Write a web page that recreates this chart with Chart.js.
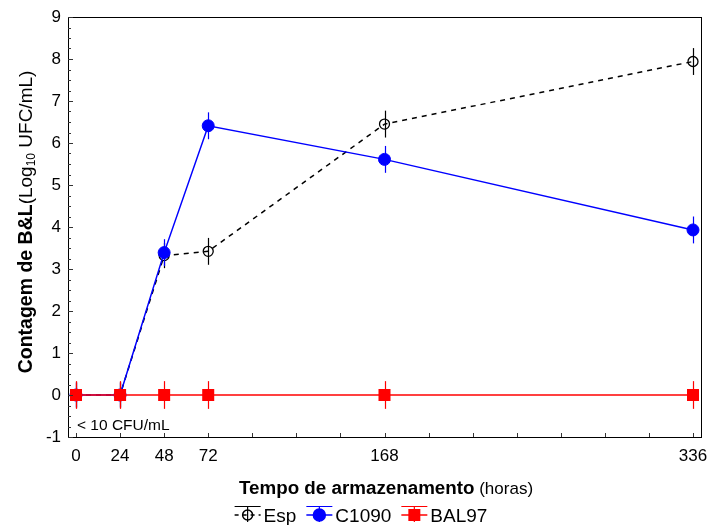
<!DOCTYPE html>
<html>
<head>
<meta charset="utf-8">
<script src="https://cdn.jsdelivr.net/npm/chart.js@4/dist/chart.umd.min.js"></script>
<style>
	html, body { margin: 0; padding: 0; background: #fff; }
	#wrap { width: 712px; height: 525px; }
</style>
</head>
<body>
<div id="wrap"><canvas id="chart" width="712" height="525"></canvas></div>
<script>
// storage time (hours)
const hours = [0, 24, 48, 72, 168, 336]
const labelledHours = [0, 24, 48, 72, 168, 336]

// B&L counts, Log10 UFC/mL
const esp = [0, 0, 3.32, 3.42, 6.45, 7.94]
const espErr = [0.3, 0.3, 0.3, 0.32, 0.32, 0.32]
const c1090 = [0, 0, 3.39, 6.41, 5.61, 3.93]
const c1090Err = [0.3, 0.3, 0.32, 0.32, 0.32, 0.32]
const bal97 = [0, 0, 0, 0, 0, 0]
const bal97Err = [0.33, 0.33, 0.33, 0.33, 0.33, 0.33]

const errors = [espErr, c1090Err, bal97Err]
const FONT = '"Liberation Sans", Arial, sans-serif'

function points(vals) {
	return hours.map((h, i) => ({x: h, y: vals[i]}))
}

// error whiskers, drawn after each dataset
const errorBars = {
	id: 'errorBars',
	afterDatasetDraw(chart, args) {
		const ctx = chart.ctx
		const ds = chart.data.datasets[args.index]
		const errs = errors[args.index]
		const xs = chart.scales.x, ys = chart.scales.y
		ctx.save()
		ctx.strokeStyle = ds.borderColor
		ctx.lineWidth = 1.2
		ds.data.forEach((p, i) => {
			const x = Math.round(xs.getPixelForValue(p.x)) + 0.5
			ctx.beginPath()
			ctx.moveTo(x, ys.getPixelForValue(p.y + errs[i]))
			ctx.lineTo(x, ys.getPixelForValue(p.y - errs[i]))
			ctx.stroke()
		})
		ctx.restore()
	}
}

// frame, inside ticks, titles, note and legend
const decor = {
	id: 'decor',
	afterDraw(chart) {
		const ctx = chart.ctx
		const a = chart.chartArea
		const xs = chart.scales.x, ys = chart.scales.y
		ctx.save()
		ctx.strokeStyle = '#000'
		ctx.lineWidth = 1
		ctx.strokeRect(Math.round(a.left) + 0.5, Math.round(a.top) + 0.5, Math.round(a.right - a.left), Math.round(a.bottom - a.top))

		ctx.strokeStyle = '#333'
		ctx.beginPath()
		for (let h = 0; h <= 336; h += 24) {
			const x = Math.round(xs.getPixelForValue(h)) + 0.5
			ctx.moveTo(x, a.bottom)
			ctx.lineTo(x, a.bottom - 4)
		}
		for (let v = -1; v <= 9.001; v += 0.25) {
			const y = Math.round(ys.getPixelForValue(v)) + 0.5
			const major = Math.abs(v - Math.round(v)) < 0.01
			ctx.moveTo(a.left, y)
			ctx.lineTo(a.left + (major ? 5 : 3), y)
		}
		ctx.stroke()

		ctx.fillStyle = '#000'
		ctx.textBaseline = 'alphabetic'

		// note under the zero line
		ctx.font = '15.5px ' + FONT
		ctx.textAlign = 'left'
		ctx.fillText('< 10 CFU/mL', 77, 430)

		// x title
		ctx.font = 'bold 18.8px ' + FONT
		const t1 = 'Tempo de armazenamento'
		const w1 = ctx.measureText(t1).width
		ctx.font = '17px ' + FONT
		const t2 = ' (horas)'
		const w2 = ctx.measureText(t2).width
		let x0 = 386 - (w1 + w2) / 2
		ctx.font = 'bold 18.8px ' + FONT
		ctx.fillText(t1, x0, 494)
		ctx.font = '17px ' + FONT
		ctx.fillText(t2, x0 + w1, 494)

		// y title, rotated
		ctx.save()
		ctx.translate(32, 222)
		ctx.rotate(-Math.PI / 2)
		const parts = [
			{t: 'Contagem de B&L', f: 'bold 19.5px ' + FONT, dy: 0},
			{t: '(Log', f: '19px ' + FONT, dy: 0},
			{t: '10', f: '12px ' + FONT, dy: 3},
			{t: ' UFC/mL)', f: '19px ' + FONT, dy: 0}
		]
		let total = 0
		parts.forEach(p => { ctx.font = p.f; p.w = ctx.measureText(p.t).width; total += p.w })
		let px = -total / 2
		parts.forEach(p => {
			ctx.font = p.f
			ctx.fillText(p.t, px, p.dy)
			px += p.w
		})
		ctx.restore()

		// legend
		ctx.font = '19px ' + FONT
		const items = chart.data.datasets.map(ds => ({ds, w: 29 + ctx.measureText(ds.label).width}))
		const gap = 10
		let lw = items.reduce((s, it) => s + it.w, 0) + gap * (items.length - 1)
		let lx = 361 - lw / 2
		const ly = 515
		items.forEach(it => {
			const ds = it.ds
			ctx.strokeStyle = ds.borderColor
			ctx.lineWidth = 1.2
			ctx.setLineDash([])
			ctx.beginPath()
			ctx.moveTo(lx, ly - 8.5)
			ctx.lineTo(lx + 26, ly - 8.5)
			ctx.moveTo(lx + 13, ly - 8.5)
			ctx.lineTo(lx + 13, ly + 7)
			ctx.stroke()
			ctx.lineWidth = 1.5
			if (ds.borderDash && ds.borderDash.length) ctx.setLineDash([4, 4])
			ctx.beginPath()
			ctx.moveTo(lx, ly)
			ctx.lineTo(lx + 26, ly)
			ctx.stroke()
			ctx.setLineDash([])
			ctx.fillStyle = ds.pointBackgroundColor
			ctx.beginPath()
			if (ds.pointStyle === 'rect') {
				ctx.rect(lx + 13 - 6, ly - 6, 12, 12)
				ctx.fill()
			} else {
				ctx.arc(lx + 13, ly, ds.pointRadius, 0, Math.PI * 2)
				ctx.fill()
				ctx.stroke()
			}
			ctx.fillStyle = '#000'
			ctx.textAlign = 'left'
			ctx.fillText(ds.label, lx + 29, ly + 7)
			lx += it.w + gap
		})
		ctx.restore()
	}
}

new Chart(document.getElementById('chart').getContext('2d'), {
	type: 'line',
	data: {
		datasets: [
			{
				label: 'Esp',
				data: points(esp),
				borderColor: '#000',
				borderWidth: 1.5,
				borderDash: [5, 5],
				pointStyle: 'circle',
				pointRadius: 5,
				pointBorderWidth: 1.3,
				pointBorderColor: '#000',
				pointBackgroundColor: 'rgba(255,255,255,0)',
				order: 2
			},
			{
				label: 'C1090',
				data: points(c1090),
				borderColor: '#0000ff',
				borderWidth: 1.5,
				pointStyle: 'circle',
				pointRadius: 6,
				pointBorderWidth: 1,
				pointBorderColor: '#0000ff',
				pointBackgroundColor: '#0000ff',
				order: 1
			},
			{
				label: 'BAL97',
				data: points(bal97),
				borderColor: '#ff0000',
				borderWidth: 1.5,
				pointStyle: 'rect',
				pointRadius: 8.5,
				pointBorderWidth: 0,
				pointBorderColor: '#ff0000',
				pointBackgroundColor: '#ff0000',
				order: 0
			}
		]
	},
	options: {
		responsive: false,
		animation: false,
		events: [],
		layout: {padding: {top: 17, right: 11, left: 0, bottom: 0}},
		plugins: {legend: {display: false}, tooltip: {enabled: false}},
		elements: {line: {tension: 0}},
		scales: {
			x: {
				type: 'linear',
				min: -4.36,
				max: 340.36,
				grid: {display: false, drawTicks: false},
				border: {display: false},
				afterBuildTicks: s => { s.ticks = labelledHours.map(v => ({value: v})) },
				afterFit: s => { s.height = 88; s.paddingLeft = 0; s.paddingRight = 0 },
				ticks: {
					autoSkip: false,
					maxRotation: 0,
					padding: 9,
					color: '#000',
					font: {family: FONT, size: 17}
				}
			},
			y: {
				min: -1,
				max: 9,
				grid: {display: false, drawTicks: false},
				border: {display: false},
				afterFit: s => { s.width = 68; s.paddingTop = 0; s.paddingBottom = 0 },
				ticks: {
					stepSize: 1,
					padding: 7,
					color: '#000',
					font: {family: FONT, size: 17}
				}
			}
		}
	},
	plugins: [errorBars, decor]
})
</script>
</body>
</html>
